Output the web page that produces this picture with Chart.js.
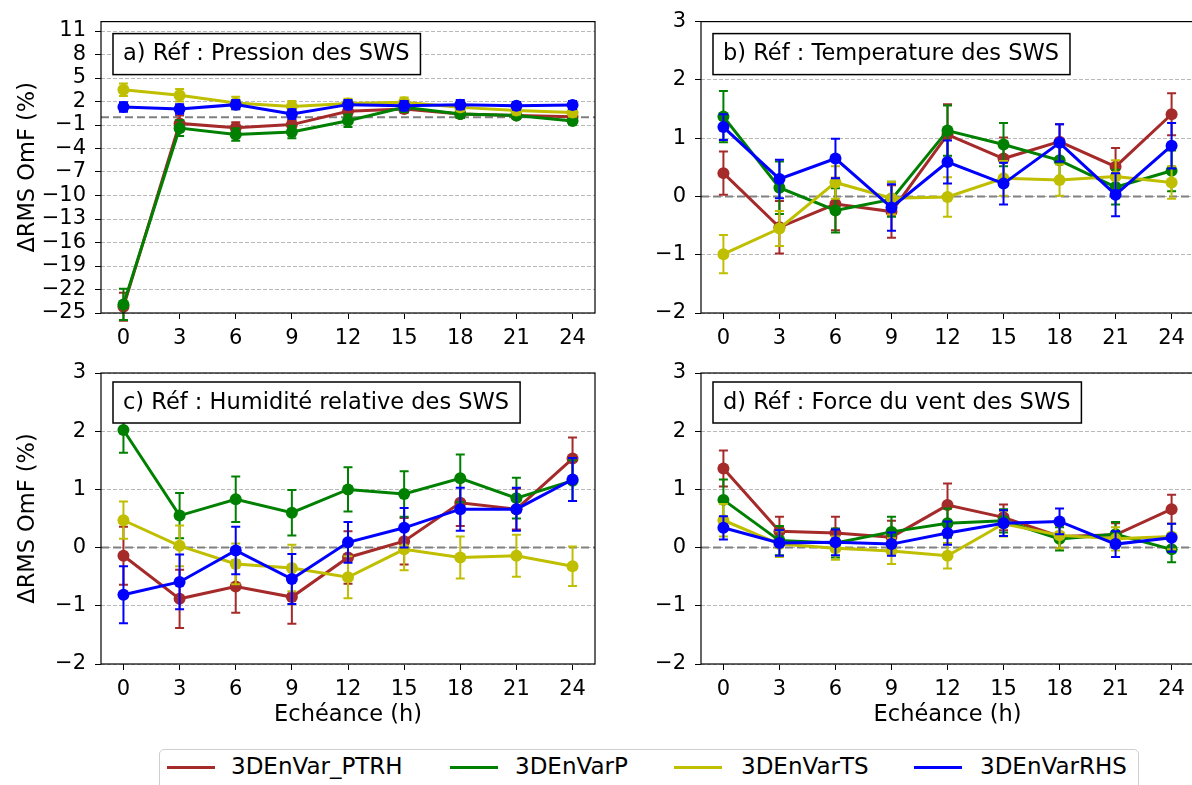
<!DOCTYPE html>
<html>
<head>
<meta charset="utf-8">
<script src="https://cdn.jsdelivr.net/npm/chart.js@4.4.0/dist/chart.umd.min.js"></script>
<style>
html, body { margin: 0; padding: 0; background: #fff; }
body { width: 1192px; height: 785px; overflow: hidden; position: relative; font-family: 'DejaVu Sans', sans-serif; }
.panel { position: absolute; }
#legend { position: absolute; left: 159px; top: 749px; width: 980px; height: 50px; border: 1.5px solid #cfcfcf; border-radius: 5px; box-sizing: border-box; background: #fff; }
.swatch { position: absolute; top: 16px; width: 48px; height: 3px; }
.lbl { position: absolute; top: 0px; font-size: 23px; line-height: 32px; color: #000; }
</style>
</head>
<body>
<div class="panel" style="left:0;top:0;width:601px;height:345px"><canvas id="chA"></canvas></div>
<div class="panel" style="left:600px;top:0;width:600px;height:345px"><canvas id="chB"></canvas></div>
<div class="panel" style="left:0;top:345px;width:601px;height:390px"><canvas id="chC"></canvas></div>
<div class="panel" style="left:600px;top:345px;width:600px;height:390px"><canvas id="chD"></canvas></div>
<div id="legend"></div>
<script>
// Forecast hours and axis ticks
const hours = [0, 3, 6, 9, 12, 15, 18, 21, 24];
const yTicksA = [-25, -22, -19, -16, -13, -10, -7, -4, -1, 2, 5, 8, 11];
const yTicksB = [-2, -1, 0, 1, 2, 3];

const seriesNames = ['3DEnVar_PTRH', '3DEnVarP', '3DEnVarTS', '3DEnVarRHS'];
const seriesColors = ['#a52a2a', '#008000', '#bfbf00', '#0000ff'];

// a) Pression
const presPTRH = [-24.2, -0.8, -1.35, -0.95, 0.75, 1.05, 0.4, 0.2, 0.05];
const presP    = [-23.9, -1.4, -2.2, -1.9, -0.45, 1.25, 0.4, 0.2, -0.5];
const presTS   = [3.5, 2.8, 1.8, 1.35, 1.75, 1.9, 1.25, 0.85, 0.6];
const presRHS  = [1.3, 1.05, 1.6, 0.4, 1.6, 1.45, 1.6, 1.45, 1.55];
const presPTRHErr = [1.8, 1.0, 0.7, 0.6, 0.6, 0.5, 0.5, 0.4, 0.4];
const presPErr    = [2.0, 1.0, 0.8, 0.8, 0.8, 0.6, 0.5, 0.4, 0.4];
const presTSErr   = [0.8, 0.8, 0.8, 0.7, 0.6, 0.6, 0.5, 0.5, 0.5];
const presRHSErr  = [0.6, 0.6, 0.6, 0.6, 0.6, 0.6, 0.6, 0.5, 0.5];

// b) Temperature
const tempPTRH = [0.4, -0.53, -0.13, -0.26, 1.06, 0.65, 0.94, 0.51, 1.41];
const tempP    = [1.37, 0.15, -0.24, -0.05, 1.13, 0.89, 0.62, 0.16, 0.44];
const tempTS   = [-0.99, -0.55, 0.24, -0.03, -0.01, 0.31, 0.28, 0.34, 0.24];
const tempRHS  = [1.19, 0.3, 0.65, -0.19, 0.59, 0.22, 0.92, 0.03, 0.87];
const tempPTRHErr = [0.37, 0.45, 0.45, 0.45, 0.52, 0.36, 0.3, 0.32, 0.36];
const tempPErr    = [0.44, 0.45, 0.38, 0.3, 0.43, 0.37, 0.35, 0.3, 0.35];
const tempTSErr   = [0.33, 0.3, 0.28, 0.28, 0.34, 0.3, 0.27, 0.28, 0.28];
const tempRHSErr  = [0.22, 0.33, 0.34, 0.4, 0.37, 0.36, 0.32, 0.37, 0.39];

// c) Humidite relative
const humPTRH = [-0.14, -0.88, -0.67, -0.85, -0.17, 0.11, 0.77, 0.66, 1.53];
const humP    = [2.02, 0.55, 0.83, 0.6, 1.0, 0.92, 1.19, 0.85, 1.15];
const humTS   = [0.47, 0.03, -0.28, -0.35, -0.51, -0.03, -0.17, -0.14, -0.32];
const humRHS  = [-0.81, -0.59, -0.05, -0.54, 0.09, 0.34, 0.66, 0.66, 1.17];
const humPTRHErr = [0.5, 0.5, 0.45, 0.46, 0.45, 0.4, 0.4, 0.35, 0.36];
const humPErr    = [0.39, 0.39, 0.39, 0.39, 0.38, 0.39, 0.41, 0.35, 0.35];
const humTSErr   = [0.32, 0.35, 0.35, 0.4, 0.36, 0.36, 0.36, 0.36, 0.34];
const humRHSErr  = [0.49, 0.47, 0.41, 0.43, 0.35, 0.34, 0.37, 0.37, 0.37];

// d) Force du vent
const windPTRH = [1.36, 0.28, 0.25, 0.18, 0.73, 0.52, 0.19, 0.22, 0.66];
const windP    = [0.82, 0.12, 0.08, 0.27, 0.42, 0.46, 0.15, 0.23, -0.03];
const windTS   = [0.47, 0.06, -0.01, -0.06, -0.14, 0.41, 0.21, 0.15, 0.19];
const windRHS  = [0.34, 0.08, 0.09, 0.06, 0.25, 0.42, 0.45, 0.06, 0.17];
const windPTRHErr = [0.31, 0.25, 0.28, 0.28, 0.37, 0.22, 0.2, 0.2, 0.25];
const windPErr    = [0.35, 0.25, 0.25, 0.26, 0.25, 0.2, 0.2, 0.21, 0.22];
const windTSErr   = [0.28, 0.22, 0.2, 0.22, 0.22, 0.22, 0.22, 0.2, 0.22];
const windRHSErr  = [0.2, 0.22, 0.22, 0.2, 0.2, 0.22, 0.22, 0.22, 0.24];

const FONT = "'DejaVu Sans', sans-serif";
const minus = v => (v < 0 ? '\u2212' + Math.abs(v) : String(v));

// error bars, zero line, frame and title box
const panelDecor = {
    id: 'panelDecor',
    beforeDatasetsDraw(chart) {
        const { ctx, chartArea: a, scales: { y } } = chart;
        const y0 = y.getPixelForValue(0);
        ctx.save();
        ctx.strokeStyle = '#808080';
        ctx.lineWidth = 2;
        ctx.setLineDash([8, 4]);
        ctx.beginPath();
        ctx.moveTo(a.left, y0);
        ctx.lineTo(a.right, y0);
        ctx.stroke();
        ctx.restore();
    },
    beforeDatasetDraw(chart, args) {
        const ds = chart.data.datasets[args.index];
        if (!ds.errors) return;
        const { ctx, scales: { y } } = chart;
        ctx.save();
        ctx.strokeStyle = ds.borderColor;
        ctx.lineWidth = 2;
        args.meta.data.forEach((pt, i) => {
            const v = ds.data[i].y, e = ds.errors[i];
            const yt = y.getPixelForValue(v + e), yb = y.getPixelForValue(v - e);
            ctx.beginPath();
            ctx.moveTo(pt.x, yt); ctx.lineTo(pt.x, yb);
            ctx.moveTo(pt.x - 4.5, yt); ctx.lineTo(pt.x + 4.5, yt);
            ctx.moveTo(pt.x - 4.5, yb); ctx.lineTo(pt.x + 4.5, yb);
            ctx.stroke();
        });
        ctx.restore();
    },
    afterDraw(chart, args, opts) {
        const { ctx, chartArea: a } = chart;
        ctx.save();
        ctx.strokeStyle = '#000';
        ctx.lineWidth = 1.2;
        ctx.strokeRect(a.left, a.top, a.right - a.left, a.bottom - a.top);
        // title box
        ctx.font = '22.5px ' + FONT;
        const w = ctx.measureText(opts.title).width;
        const bx = a.left + 12, by = a.top + opts.boxTop;
        ctx.fillStyle = '#fff';
        ctx.fillRect(bx, by, w + 21, 41);
        ctx.lineWidth = 1.5;
        ctx.strokeRect(bx, by, w + 21, 41);
        ctx.fillStyle = '#000';
        ctx.textBaseline = 'middle';
        ctx.fillText(opts.title, bx + 10, by + 21);
        ctx.restore();
    }
};

function makePanel(id, title, vals, errs, yMin, yMax, yTicks, opt) {
    const datasets = vals.map((v, k) => ({
        label: seriesNames[k],
        data: hours.map((h, i) => ({ x: h, y: v[i] })),
        errors: errs[k],
        borderColor: seriesColors[k],
        backgroundColor: seriesColors[k],
        borderWidth: 3,
        pointRadius: 6,
        pointBorderWidth: 0,
        pointHoverRadius: 6,
        tension: 0,
        order: 4 - k
    }));
    return new Chart(document.getElementById(id), {
        type: 'line',
        data: { datasets },
        plugins: [panelDecor],
        options: {
            responsive: true,
            maintainAspectRatio: false,
            animation: false,
            events: [],
            layout: { padding: { top: opt.padTop, right: 0, left: 0, bottom: 0 } },
            plugins: {
                legend: { display: false },
                tooltip: { enabled: false },
                panelDecor: { title, boxTop: opt.boxTop }
            },
            scales: {
                x: {
                    type: 'linear', min: -1.2, max: 25.2,
                    afterBuildTicks: s => { s.ticks = hours.map(v => ({ value: v })); },
                    afterFit: s => { s.height = opt.xHeight; },
                    grid: { drawOnChartArea: false, drawTicks: true, tickLength: 6, tickColor: '#000', tickWidth: 1 },
                    border: { display: false },
                    ticks: { color: '#000', font: { family: FONT, size: 21 }, padding: 7, maxRotation: 0, autoSkip: false, callback: v => v },
                    title: { display: opt.xTitle, text: 'Echéance (h)', color: '#000', font: { family: FONT, size: 22.5 }, padding: { top: 0, bottom: 6.5 } }
                },
                y: {
                    type: 'linear', min: yMin, max: yMax,
                    afterBuildTicks: s => { s.ticks = yTicks.map(v => ({ value: v })); },
                    afterFit: s => { s.width = 101; },
                    grid: { color: '#b8b8b8', lineWidth: 1, drawTicks: true, tickLength: 6, tickColor: '#000', tickWidth: 1 },
                    border: { display: false, dash: [4, 2] },
                    ticks: { color: '#000', font: { family: FONT, size: 21 }, padding: 9, autoSkip: false, callback: v => minus(v) },
                    title: { display: opt.yTitle, text: 'ΔRMS OmF (%)', color: '#000', font: { family: FONT, size: 22.5 }, padding: { top: 14.5, bottom: 0 } }
                }
            }
        }
    });
}

makePanel('chA', 'a) Réf : Pression des SWS',
    [presPTRH, presP, presTS, presRHS], [presPTRHErr, presPErr, presTSErr, presRHSErr],
    -25, 12.2, yTicksA, { padTop: 19, xHeight: 32, boxTop: 12, xTitle: false, yTitle: true });
makePanel('chB', 'b) Réf : Temperature des SWS',
    [tempPTRH, tempP, tempTS, tempRHS], [tempPTRHErr, tempPErr, tempTSErr, tempRHSErr],
    -2, 3, yTicksB, { padTop: 19, xHeight: 32, boxTop: 12, xTitle: false, yTitle: false });
makePanel('chC', 'c) Réf : Humidité relative des SWS',
    [humPTRH, humP, humTS, humRHS], [humPTRHErr, humPErr, humTSErr, humRHSErr],
    -2, 3, yTicksB, { padTop: 28, xHeight: 71, boxTop: 9, xTitle: true, yTitle: true });
makePanel('chD', 'd) Réf : Force du vent des SWS',
    [windPTRH, windP, windTS, windRHS], [windPTRHErr, windPErr, windTSErr, windRHSErr],
    -2, 3, yTicksB, { padTop: 28, xHeight: 71, boxTop: 9, xTitle: true, yTitle: false });

// legend
const legendX = [[7, 71], [290, 355], [514, 581], [754, 820]];
const legend = document.getElementById('legend');
seriesNames.forEach((name, k) => {
    const sw = document.createElement('div');
    sw.className = 'swatch';
    sw.style.left = legendX[k][0] + 'px';
    sw.style.background = seriesColors[k];
    const tx = document.createElement('div');
    tx.className = 'lbl';
    tx.style.left = legendX[k][1] + 'px';
    tx.textContent = name;
    legend.appendChild(sw);
    legend.appendChild(tx);
});
</script>
</body>
</html>
